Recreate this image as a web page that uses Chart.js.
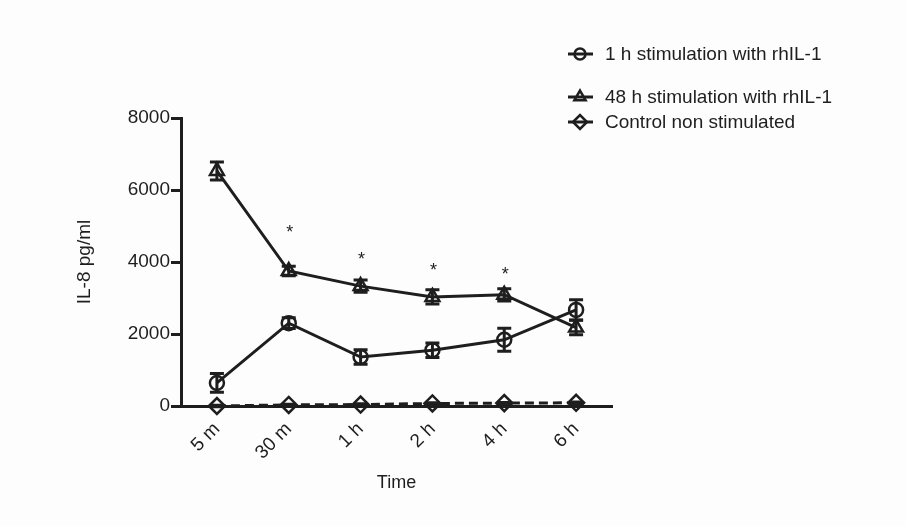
<!DOCTYPE html>
<html>
<head>
<meta charset="utf-8">
<script src="https://cdn.jsdelivr.net/npm/chart.js@4"></script>
<style>
  html, body { margin: 0; padding: 0; background: #fdfdfd; }
  #wrap { width: 906px; height: 526px; }
</style>
</head>
<body>
<div id="wrap"><canvas id="il8"></canvas></div>
<script>
// values
const timeLabels = ['5 m', '30 m', '1 h', '2 h', '4 h', '6 h']
const yTicks = [0, 2000, 4000, 6000, 8000]

const stim1h = [640, 2300, 1360, 1550, 1840, 2670]
const stim1hErr = [260, 150, 200, 200, 320, 280]

const stim48h = [6530, 3750, 3330, 3030, 3090, 2180]
const stim48hErr = [250, 130, 170, 200, 170, 200]

const control = [0, 30, 40, 70, 80, 90]
const controlErr = [20, 20, 20, 20, 20, 20]

const starLabels = ['', '*', '*', '*', '*', '']
const starValues = [0, 4920, 4170, 3860, 3750, 0]

const seriesNames = ['1 h stimulation with rhIL-1', '48 h stimulation with rhIL-1', 'Control non stimulated']

const ink = '#1e1e1e'
const font = 'Liberation Sans, Arial, sans-serif'

const errorBars = {
  id: 'errorBars',
  afterDatasetsDraw(chart) {
    const ctx = chart.ctx
    const y = chart.scales.y
    ctx.save()
    ctx.strokeStyle = ink
    ctx.lineWidth = 3
    chart.data.datasets.forEach((ds, i) => {
      const meta = chart.getDatasetMeta(i)
      meta.data.forEach((pt, j) => {
        const e = ds.errors[j]
        const top = y.getPixelForValue(ds.data[j] + e)
        const bot = y.getPixelForValue(ds.data[j] - e)
        ctx.beginPath()
        ctx.moveTo(pt.x, top); ctx.lineTo(pt.x, bot)
        ctx.moveTo(pt.x - 7, top); ctx.lineTo(pt.x + 7, top)
        ctx.moveTo(pt.x - 7, bot); ctx.lineTo(pt.x + 7, bot)
        ctx.stroke()
      })
    })
    // significance stars
    ctx.fillStyle = ink
    ctx.font = '18px ' + font
    ctx.textAlign = 'center'
    ctx.textBaseline = 'middle'
    const x = chart.scales.x
    starLabels.forEach((s, j) => {
      if (!s) return
      ctx.fillText(s, x.getPixelForValue(j) + 1, y.getPixelForValue(starValues[j]) + 4)
    })
    ctx.restore()
  }
}

const sideLegend = {
  id: 'sideLegend',
  afterDraw(chart) {
    const ctx = chart.ctx
    const rows = [54, 97, 122]
    const sizes = [5.5, 6.5, 7]
    ctx.save()
    ctx.font = '19px ' + font
    ctx.textBaseline = 'middle'
    ctx.textAlign = 'left'
    chart.data.datasets.forEach((ds, i) => {
      const cy = rows[i]
      ctx.strokeStyle = ink
      ctx.lineWidth = 3
      ctx.beginPath()
      ctx.moveTo(568, cy); ctx.lineTo(593, cy)
      ctx.stroke()
      ctx.fillStyle = 'rgba(0,0,0,0)'
      ctx.lineWidth = 2.5
      Chart.helpers.drawPoint(ctx, {
        pointStyle: ds.pointStyle, radius: sizes[i], borderWidth: 2.5
      }, 580, cy)
      ctx.fillStyle = ink
      ctx.fillText(seriesNames[i], 605, cy + 1)
    })
    ctx.restore()
  }
}

const mkSet = (label, data, errors, style, radius, dash) => ({
  label: label,
  data: data,
  errors: errors,
  borderColor: ink,
  borderWidth: 3,
  borderDash: dash,
  pointStyle: style,
  pointRadius: radius,
  pointBorderWidth: 2.5,
  pointBorderColor: ink,
  pointBackgroundColor: 'rgba(0,0,0,0)',
  tension: 0,
  clip: false,
})

const data = {
  labels: timeLabels,
  datasets: [
    mkSet(seriesNames[0], stim1h, stim1hErr, 'circle', 7, []),
    mkSet(seriesNames[1], stim48h, stim48hErr, 'triangle', 8, []),
    mkSet(seriesNames[2], control, controlErr, 'rectRot', 8, [9, 5]),
  ],
}

const config = {
  type: 'line',
  data: data,
  options: {
    responsive: false,
    animation: false,
    layout: { padding: { top: 118, right: 294, left: 0, bottom: 0 } },
    plugins: { legend: { display: false }, tooltip: { enabled: false } },
    scales: {
      x: {
        offset: true,
        grid: { display: false, drawTicks: false },
        border: { display: true, color: ink, width: 3 },
        ticks: { color: ink, font: { family: font, size: 19 }, minRotation: 45, maxRotation: 45, padding: 12 },
        title: { display: true, text: 'Time', color: ink, font: { family: font, size: 18 }, padding: { top: 0, bottom: 32 } },
        afterFit(s) { s.height = 120 },
      },
      y: {
        min: 0, max: 8000,
        afterBuildTicks(s) { s.ticks = yTicks.map(v => ({ value: v })) },
        grid: { display: true, drawOnChartArea: false, drawTicks: true, tickLength: 10, color: ink, lineWidth: 3 },
        border: { display: true, color: ink, width: 3 },
        ticks: { color: ink, font: { family: font, size: 19 }, padding: 1, callback: v => String(v) },
        title: { display: true, text: 'IL-8 pg/ml', color: ink, font: { family: font, size: 19 }, padding: { top: 73, bottom: 0 } },
        afterFit(s) { s.width = 181 },
      },
    },
  },
  plugins: [errorBars, sideLegend],
}

const canvas = document.getElementById('il8')
canvas.width = 906
canvas.height = 526
const chart = new Chart(canvas, config)
</script>
</body>
</html>
